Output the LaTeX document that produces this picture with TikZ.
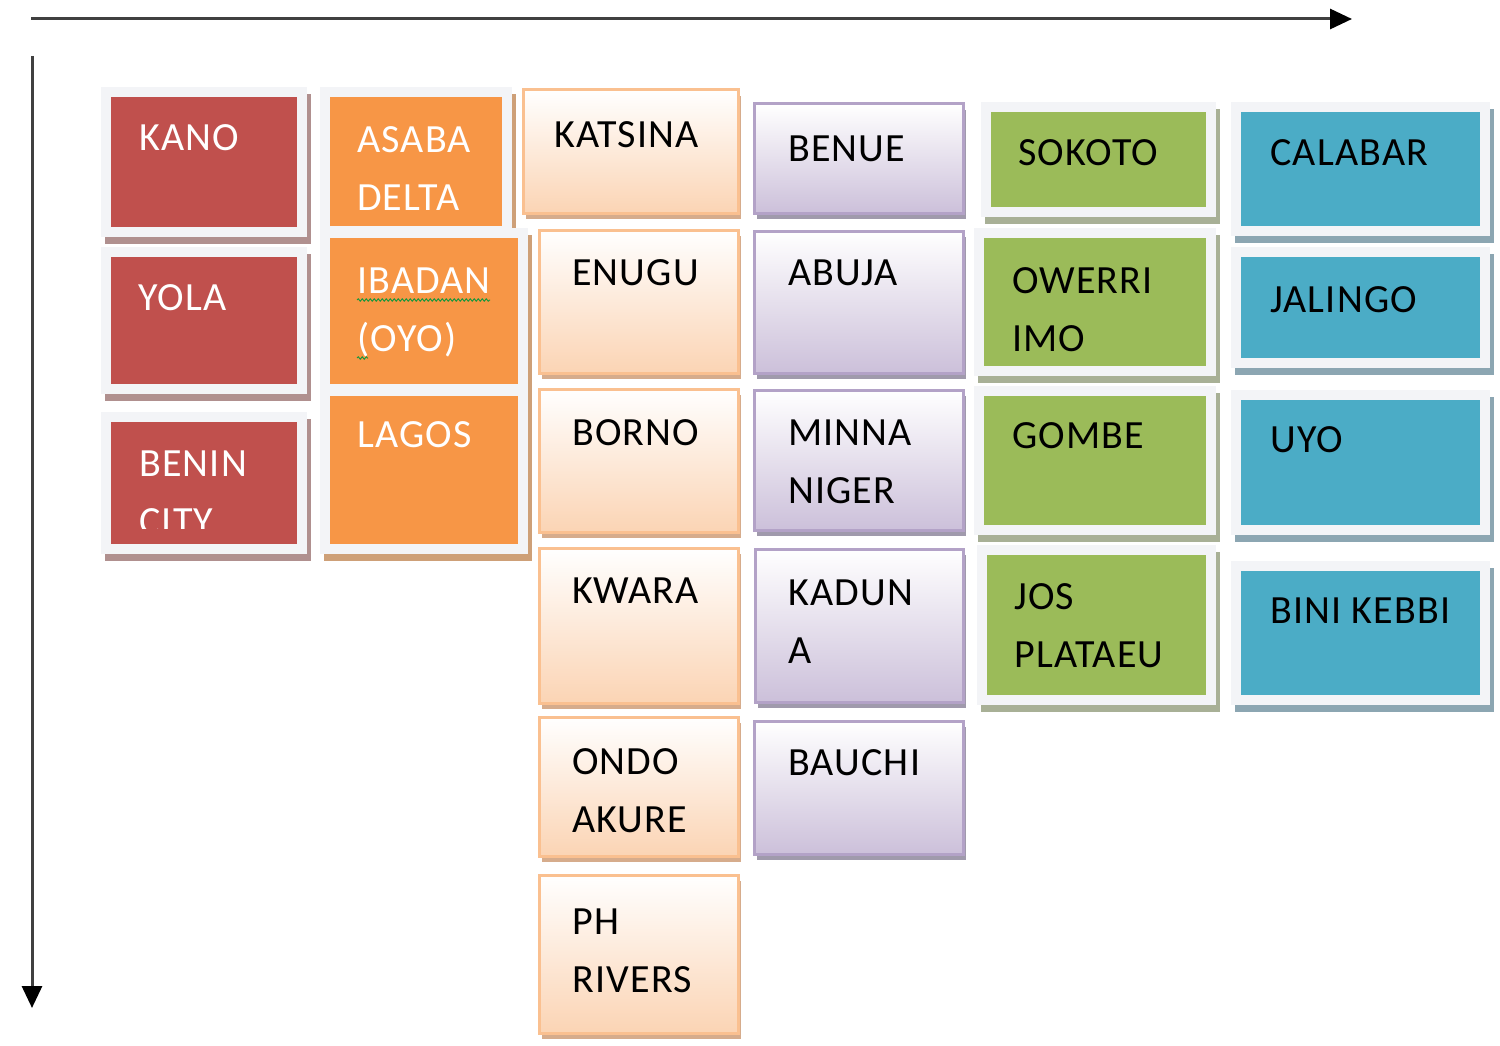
\documentclass[tikz,border=0pt]{standalone}
\usepackage{fontspec}
\setmainfont{Carlito}[LetterSpace=3]
\usetikzlibrary{arrows.meta,decorations.pathmorphing}
\definecolor{framegrey}{RGB}{243,244,247}
\definecolor{redfill}{RGB}{192,80,77}
\definecolor{redshade}{RGB}{176,144,143}
\definecolor{orangefill}{RGB}{247,150,70}
\definecolor{orangeshade}{RGB}{206,160,120}
\definecolor{peachline}{RGB}{250,192,144}
\definecolor{peachfill}{RGB}{251,212,180}
\definecolor{peachshade}{RGB}{214,172,140}
\definecolor{lilacline}{RGB}{179,162,199}
\definecolor{lilacfill}{RGB}{204,192,218}
\definecolor{lilacshade}{RGB}{160,154,172}
\definecolor{greenfill}{RGB}{155,187,89}
\definecolor{greenshade}{RGB}{168,176,150}
\definecolor{bluefill}{RGB}{75,172,198}
\definecolor{blueshade}{RGB}{140,166,178}
\definecolor{axisgrey}{RGB}{64,64,64}
\definecolor{spellgreen}{RGB}{30,150,60}

\begin{document}
\begin{tikzpicture}[x=1pt,y=-1pt,
  tile/.style 2 args={anchor=north west,minimum width=#1pt,minimum height=#2pt,inner sep=0pt,outer sep=0pt},
  frametile/.style 2 args={fill=#1,
    preaction={fill=#2,draw=#2,line width=20pt,transform canvas={shift={(4pt,-7pt)}}},
    preaction={draw=framegrey,line width=20pt}},
  gradtile/.style n args={3}{top color=white,bottom color=#2,draw=#1,line width=3pt,
    preaction={fill=#3,transform canvas={shift={(3pt,-6pt)}}}},
  redtile/.style={frametile={redfill}{redshade}},
  orangetile/.style={frametile={orangefill}{orangeshade}},
  peachtile/.style={gradtile={peachline}{peachfill}{peachshade}},
  liltile/.style={gradtile={lilacline}{lilacfill}{lilacshade}},
  greentile/.style={frametile={greenfill}{greenshade}},
  bluetile/.style={frametile={bluefill}{blueshade}},
  wlabel/.style={anchor=base west,align=left,text=white,inner sep=0pt,font=\fontsize{40}{58}\selectfont},
  blabel/.style={wlabel,text=black},
  axis/.style={draw=axisgrey,line width=3pt,-{Triangle[length=22pt,width=20pt,color=black]}},
  squiggle/.style={draw=spellgreen,line width=1pt,decorate,decoration={snake,amplitude=1.2pt,segment length=4pt}}
]
\useasboundingbox (0,0) rectangle (1500,1046);

\coordinate (xstart) at (31,19);
\coordinate (xend) at (1352,19);
\coordinate (ystart) at (32,56);
\coordinate (yend) at (32,1008);
\draw[axis] (xstart) -- (xend);
\draw[axis] (ystart) -- (yend);

\node[tile={186}{130},redtile] (kano) at (111,97) {};
\node[tile={186}{127},redtile] (yola) at (111,257) {};
\node[tile={186}{122},redtile] (benin) at (111,422) {};
\node[wlabel] (kano-t) at ([shift={(28,54)}]kano.north west) {KANO};
\node[wlabel] (yola-t) at ([shift={(27,53)}]yola.north west) {YOLA};
\begin{scope}
\clip (benin.north west) rectangle ([yshift=16pt]benin.south east);
\node[wlabel] (benin-t) at ([shift={(28,112)}]benin.north west) {BENIN\\CITY};
\end{scope}

\node[tile={172}{129},orangetile] (asaba) at (330,97) {};
\node[tile={188}{146},orangetile] (ibadan) at (330,238) {};
\node[tile={188}{148},orangetile] (lagos) at (330,396) {};
\node[wlabel] (asaba-t) at ([shift={(27,113)}]asaba.north west) {ASABA\\DELTA};
\node[wlabel] (ibadan-t) at ([shift={(27,113)}]ibadan.north west) {IBADAN\\(OYO)};
\node[wlabel] (lagos-t) at ([shift={(27,51)}]lagos.north west) {LAGOS};
\draw[squiggle] ([shift={(27,62)}]ibadan.north west) -- ++(133,0);
\draw[squiggle] ([shift={(27,120)}]ibadan.north west) -- ++(11,0);

\node[tile={215}{123},peachtile] (katsina) at (523,90) {};
\node[tile={199}{143},peachtile] (enugu) at (539,230) {};
\node[tile={199}{143},peachtile] (borno) at (539,389) {};
\node[tile={199}{155},peachtile] (kwara) at (539,548) {};
\node[tile={199}{139},peachtile] (ondo) at (539,717) {};
\node[tile={199}{158},peachtile] (ph) at (539,875) {};
\node[blabel] (katsina-t) at ([shift={(31,58)}]katsina.north west) {KATSINA};
\node[blabel] (enugu-t) at ([shift={(33,55)}]enugu.north west) {ENUGU};
\node[blabel] (borno-t) at ([shift={(33,56)}]borno.north west) {BORNO};
\node[blabel] (kwara-t) at ([shift={(33,55)}]kwara.north west) {KWARA};
\node[blabel] (ondo-t) at ([shift={(33,115)}]ondo.north west) {ONDO\\AKURE};
\node[blabel] (ph-t) at ([shift={(33,117)}]ph.north west) {PH\\RIVERS};

\node[tile={209}{109},liltile] (benue) at (754,104) {};
\node[tile={209}{142},liltile] (abuja) at (754,231) {};
\node[tile={209}{140},liltile] (minna) at (754,390) {};
\node[tile={208}{153},liltile] (kaduna) at (755,549) {};
\node[tile={209}{133},liltile] (bauchi) at (754,721) {};
\node[blabel] (benue-t) at ([shift={(34,57)}]benue.north west) {BENUE};
\node[blabel] (abuja-t) at ([shift={(34,54)}]abuja.north west) {ABUJA};
\node[blabel] (minna-t) at ([shift={(34,113)}]minna.north west) {MINNA\\NIGER};
\node[blabel] (kaduna-t) at ([shift={(33,114)}]kaduna.north west) {KADUN\\A};
\node[blabel] (bauchi-t) at ([shift={(34,54)}]bauchi.north west) {BAUCHI};

\node[tile={215}{95},greentile] (sokoto) at (991,112) {};
\node[tile={222}{128},greentile] (owerri) at (984,238) {};
\node[tile={222}{129},greentile] (gombe) at (984,396) {};
\node[tile={219}{140},greentile] (jos) at (987,555) {};
\node[blabel] (sokoto-t) at ([shift={(27,54)}]sokoto.north west) {SOKOTO};
\node[blabel] (owerri-t) at ([shift={(28,113)}]owerri.north west) {OWERRI\\IMO};
\node[blabel] (gombe-t) at ([shift={(28,52)}]gombe.north west) {GOMBE};
\node[blabel] (jos-t) at ([shift={(27,112)}]jos.north west) {JOS\\PLATAEU};

\node[tile={239}{114},bluetile] (calabar) at (1241,112) {};
\node[tile={239}{101},bluetile] (jalingo) at (1241,257) {};
\node[tile={239}{125},bluetile] (uyo) at (1241,400) {};
\node[tile={239}{124},bluetile] (kebbi) at (1241,571) {};
\node[blabel] (calabar-t) at ([shift={(29,54)}]calabar.north west) {CALABAR};
\node[blabel] (jalingo-t) at ([shift={(29,55)}]jalingo.north west) {JALINGO};
\node[blabel] (uyo-t) at ([shift={(29,52)}]uyo.north west) {UYO};
\node[blabel] (kebbi-t) at ([shift={(29,52)}]kebbi.north west) {BINI KEBBI};

\end{tikzpicture}
\end{document}
